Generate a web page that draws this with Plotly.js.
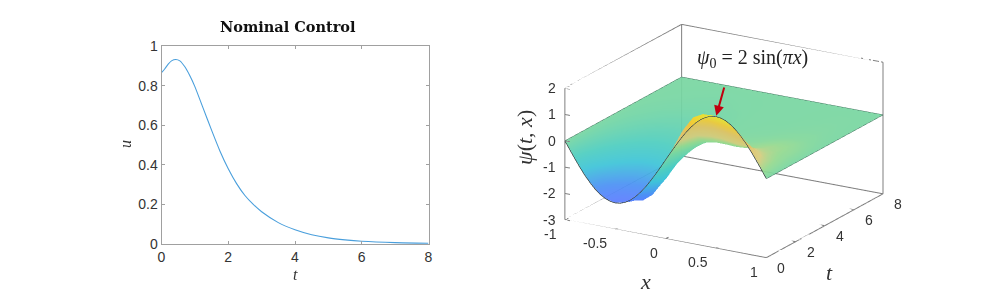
<!DOCTYPE html>
<html>
<head>
<meta charset="utf-8">
<script src="https://cdn.plot.ly/plotly-3.0.1.min.js"></script>
<style>html,body{margin:0;padding:0;background:#fff}#chart{width:1003px;height:300px}</style>
</head>
<body>
<div id="chart"></div>
<script>
var uTime = [0,0.1,0.2,0.3,0.43,0.55,0.7,0.85,1,1.25,1.5,1.75,2,2.25,2.5,2.75,3,3.5,4,4.5,5,5.5,6,7,8];
var uValue = [0.865,0.885,0.908,0.925,0.932,0.925,0.895,0.85,0.795,0.685,0.575,0.47,0.38,0.305,0.245,0.2,0.163,0.108,0.072,0.047,0.031,0.021,0.014,0.007,0.004];

var xGrid = [-1,-0.9,-0.8,-0.7,-0.6,-0.5,-0.4,-0.3,-0.2,-0.1,0,0.1,0.2,0.3,0.4,0.5,0.6,0.7,0.8,0.9,1];
var tGrid = [0,0.25,0.5,0.75,1,1.5,2,2.5,3,4,5,6,8];
var psi = [
 [0,-0.618,-1.176,-1.618,-1.902,-2,-1.902,-1.618,-1.176,-0.618,0,0.618,1.176,1.618,1.902,2,1.902,1.618,1.176,0.618,0],
 [0,-0.56,-1.08,-1.51,-1.82,-1.97,-1.97,-1.80,-1.43,-0.88,0.12,0.80,1.40,1.75,1.92,1.90,1.70,1.40,1.00,0.52,0],
 [0,-0.50,-0.98,-1.40,-1.72,-1.90,-1.96,-1.92,-1.62,-1.05,0.30,1.05,1.60,1.80,1.80,1.65,1.42,1.12,0.78,0.40,0],
 [0,-0.42,-0.84,-1.22,-1.53,-1.73,-1.80,-1.75,-1.5,-1.0,0.1,1.0,1.45,1.55,1.45,1.3,1.14,0.92,0.66,0.34,0],
 [0,-0.36,-0.72,-1.06,-1.35,-1.54,-1.62,-1.56,-1.3,-0.88,-0.05,0.85,1.2,1.3,1.18,1.0,0.82,0.68,0.5,0.28,0],
 [0,-0.27,-0.54,-0.8,-1.02,-1.18,-1.24,-1.18,-0.98,-0.65,-0.22,0.5,0.65,0.65,0.55,0.45,0.45,0.44,0.36,0.2,0],
 [0,-0.2,-0.4,-0.6,-0.77,-0.88,-0.92,-0.86,-0.7,-0.45,-0.16,0.12,0.2,0.2,0.18,0.2,0.28,0.33,0.28,0.16,0],
 [0,-0.15,-0.3,-0.44,-0.57,-0.65,-0.67,-0.62,-0.5,-0.32,-0.12,0.03,0.08,0.1,0.12,0.17,0.23,0.27,0.25,0.15,0],
 [0,-0.11,-0.22,-0.33,-0.42,-0.47,-0.48,-0.44,-0.35,-0.22,-0.09,0,0.04,0.06,0.08,0.12,0.17,0.21,0.2,0.12,0],
 [0,-0.06,-0.11,-0.17,-0.22,-0.25,-0.25,-0.23,-0.18,-0.11,-0.05,-0.01,0.01,0.02,0.03,0.05,0.07,0.09,0.09,0.05,0],
 [0,-0.03,-0.05,-0.08,-0.1,-0.12,-0.12,-0.11,-0.08,-0.05,-0.02,0,0,0.01,0.01,0.02,0.03,0.04,0.04,0.02,0],
 [0,-0.01,-0.02,-0.03,-0.04,-0.05,-0.05,-0.04,-0.03,-0.02,-0.01,0,0,0,0,0.01,0.01,0.02,0.02,0.01,0],
 [0,0,0,0,0,0,0,0,0,0,0,0,0,0,0,0,0,0,0,0,0]
];
var curveX = [-1,-0.95,-0.9,-0.85,-0.8,-0.75,-0.7,-0.65,-0.6,-0.55,-0.5,-0.45,-0.4,-0.35,-0.3,-0.25,-0.2,-0.15,-0.1,-0.05,0,0.05,0.1,0.15,0.2,0.25,0.3,0.35,0.4,0.45,0.5,0.55,0.6,0.65,0.7,0.75,0.8,0.85,0.9,0.95,1];
var curvePsi = [0,-0.313,-0.618,-0.908,-1.176,-1.414,-1.618,-1.782,-1.902,-1.975,-2,-1.975,-1.902,-1.782,-1.618,-1.414,-1.176,-0.908,-0.618,-0.313,0,0.313,0.618,0.908,1.176,1.414,1.618,1.782,1.902,1.975,2,1.975,1.902,1.782,1.618,1.414,1.176,0.908,0.618,0.313,0];
var xTicks = [-1,-0.5,0,0.5,1];
var xTickText = ['-1','-0.5','0','0.5','1'];
var tTicks = [0,2,4,6,8];
var zTicks = [-3,-2,-1,0,1,2];
var uTicks = [0,0.2,0.4,0.6,0.8,1];
var uTickText = ['0','0.2','0.4','0.6','0.8','1'];

var GREY = '#7f7f7f';
var TICKFONT = {family:'Liberation Sans, Arial, sans-serif', size:14, color:'#333333'};
var MATH = 'Liberation Serif, Times New Roman, serif';

var bx = [], by = [], bz = [];
function seg(a, b){ bx.push(a[0], b[0], null); by.push(a[1], b[1], null); bz.push(a[2], b[2], null); }
seg([-1,0,-3],[1,0,-3]); seg([1,0,-3],[1,8,-3]); seg([1,8,-3],[-1,8,-3]); seg([-1,8,-3],[-1,0,-3]);
seg([-1,0,-3],[-1,0,2]); seg([-1,8,-3],[-1,8,2]); seg([1,8,-3],[1,8,2]);
seg([-1,0,2],[-1,8,2]); seg([-1,8,2],[1,8,2]);
xTicks.forEach(function(v){ seg([v,0,-3],[v,0.2,-3]); });
tTicks.forEach(function(v){ seg([1,v,-3],[0.95,v,-3]); });
zTicks.forEach(function(v){ seg([-1,0,v],[-0.95,0,v]); });

var edgeX = [-1,-1,null,-1,1,null,1,1];
var edgeT = [0,8,null,8,8,null,8,0];
var edgeZ = [0,0,null,0,0,null,0,0];

var colors = [
 [0,'#5a7dff'],[0.10,'#4a90f5'],[0.25,'#3cc4d8'],[0.36,'#4ccdc0'],[0.5,'#78d6a0'],
 [0.56,'#94d98e'],[0.64,'#d6cc7c'],[0.76,'#e2c264'],[0.86,'#f2c838'],[0.92,'#eeda30'],[1,'#dfe63c']
];

var traces = [
 {type:'scatter', x:uTime, y:uValue, mode:'lines', line:{color:'#4a9fdc', width:1.1, shape:'spline', smoothing:0.6}, hoverinfo:'skip', showlegend:false},
 {type:'surface', scene:'scene', x:xGrid, y:tGrid, z:psi, cmin:-2, cmax:2, colorscale:colors, showscale:false, opacity:0.92,
  lighting:{ambient:1, diffuse:0, specular:0, fresnel:0, roughness:1}, hoverinfo:'skip'},
 {type:'scatter3d', scene:'scene', mode:'lines', x:bx, y:by, z:bz, line:{color:GREY, width:2}, hoverinfo:'skip', showlegend:false},
 {type:'scatter3d', scene:'scene', mode:'lines', x:curveX, y:curveX.map(function(){return 0;}), z:curvePsi, line:{color:'#1c2a2a', width:1.4}, hoverinfo:'skip', showlegend:false},
 {type:'scatter3d', scene:'scene', mode:'lines', x:edgeX, y:edgeT, z:edgeZ, line:{color:'#3d7a5e', width:1.2}, hoverinfo:'skip', showlegend:false}
];

var sceneNotes = [];
function note(x,y,z,text,anchor,dx,dy){ sceneNotes.push({x:x,y:y,z:z,text:text,showarrow:false,xanchor:anchor,yanchor:'middle',xshift:dx,yshift:dy,font:TICKFONT}); }
xTicks.forEach(function(v,i){ note(v,0,-3,xTickText[i],'right',-6,-14); });
tTicks.forEach(function(v){ note(1,v,-3,String(v),'center',15,-10); });
zTicks.forEach(function(v){ note(-1,0,v,String(v),'right',-7,0); });
sceneNotes.push({x:0.5,y:0,z:2,text:' ',showarrow:true,ax:11,ay:-39,arrowcolor:'#c0000f',arrowwidth:2,arrowhead:2,arrowsize:1,standoff:1});

var hiddenAxis = {showgrid:false, showline:false, zeroline:false, showticklabels:false, ticks:'', showbackground:false, showspikes:false, title:{text:''}};
function ax3(r){ return Object.assign({}, hiddenAxis, {range:r}); }
function paperNote(px, py, text, font, angle){
  return {xref:'paper',yref:'paper',x:px/1003,y:1-py/300,xanchor:'center',yanchor:'middle',text:text,showarrow:false,textangle:angle||0,font:font};
}

var R = 1.29, K = 1.656;
var layout = {
 width:1003, height:300, margin:{l:0,r:0,t:0,b:0}, paper_bgcolor:'#ffffff', plot_bgcolor:'#ffffff', showlegend:false,
 xaxis:{domain:[161.5/1003,428.5/1003], range:[0,8], tickvals:[0,2,4,6,8], ticks:'inside', ticklen:3, tickcolor:'#a0a0a0', linecolor:'#a0a0a0', linewidth:1, mirror:'ticks', showgrid:false, zeroline:false, tickfont:TICKFONT},
 yaxis:{domain:[1-244/300,1-46/300], range:[0,1], tickvals:uTicks, ticktext:uTickText, ticks:'inside', ticklen:3, tickcolor:'#a0a0a0', linecolor:'#a0a0a0', linewidth:1, mirror:'ticks', showgrid:false, zeroline:false, tickfont:TICKFONT},
 scene:{domain:{x:[445/1003,1],y:[18/300,1]}, bgcolor:'rgba(0,0,0,0)', dragmode:false,
  aspectmode:'manual', aspectratio:{x:1*K,y:0.988*K,z:0.595*K},
  camera:{projection:{type:'orthographic'}, up:{x:0,y:0,z:1}, center:{x:0,y:0,z:0}, eye:{x:0.479*R,y:-0.817*R,z:0.3207*R}},
  xaxis:ax3([-1,1]), yaxis:ax3([0,8]), zaxis:ax3([-3,2]), annotations:sceneNotes},
 annotations:[
  paperNote(288,26,'<b>Nominal Control</b>',{family:'DejaVu Serif, serif',size:14.5,color:'#111'}),
  paperNote(295,274,'<i>t</i>',{family:MATH,size:16,color:'#333'}),
  paperNote(125,144,'<i>u</i>',{family:MATH,size:16,color:'#333'},-90),
  paperNote(645,281,'<i>x</i>',{family:MATH,size:22,color:'#333'}),
  paperNote(829,272,'<i>t</i>',{family:MATH,size:22,color:'#333'}),
  paperNote(524,138,'<i>ψ</i>(<i>t</i>, <i>x</i>)',{family:MATH,size:22,color:'#333'},-90),
  paperNote(752,58,'<i>ψ</i><sub>0</sub> = 2 sin(<i>πx</i>)',{family:MATH,size:20,color:'#222'})
 ]
};
Plotly.newPlot('chart', traces, layout, {displayModeBar:false});
</script>
</body>
</html>
